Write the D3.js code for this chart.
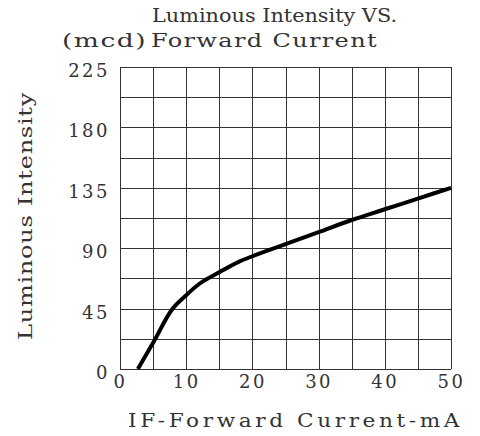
<!DOCTYPE html>
<html><head><meta charset="utf-8">
<script src="https://cdn.jsdelivr.net/npm/d3@7"></script>
<style>body{margin:0;background:#fff}svg{display:block}</style>
</head><body>
<script>
const currentMA = [2.7, 5, 7.8, 10, 12, 15, 18, 20, 25, 30, 35, 40, 45, 50];
const intensity = [0, 19.5, 44, 55, 63.5, 72, 80, 84, 93, 102, 111, 119, 127, 135];
const xTicks = [0, 10, 20, 30, 40, 50];
const yTicks = [0, 45, 90, 135, 180, 225];
const xGrid = d3.range(0, 51, 5);
const yGrid = d3.range(0, 226, 22.5);
const titleLines = ["Luminous Intensity VS.", "Forward Current"];
const unitLabel = "(mcd)";
const xTitle = "IF-Forward Current-mA";
const yTitle = "Luminous Intensity";

const W = 480, H = 436;
const svg = d3.select("body").append("svg").attr("width", W).attr("height", H);
const x = d3.scaleLinear().domain([0, 50]).range([120, 451]);
const y = d3.scaleLinear().domain([0, 225]).range([369, 67]);
const font = "'DejaVu Serif', serif";
const ink = "#333";

const grid = svg.append("g").attr("stroke", "#333").attr("stroke-width", 1).attr("shape-rendering", "crispEdges");
grid.selectAll("line.v").data(xGrid).join("line").attr("class", "v")
  .attr("x1", d => Math.round(x(d)) + 0.5).attr("x2", d => Math.round(x(d)) + 0.5)
  .attr("y1", y(225)).attr("y2", y(0));
grid.selectAll("line.h").data(yGrid).join("line").attr("class", "h")
  .attr("y1", d => Math.round(y(d)) + 0.5).attr("y2", d => Math.round(y(d)) + 0.5)
  .attr("x1", x(0)).attr("x2", x(50));

const pts = currentMA.map((c, i) => [c, intensity[i]]);
svg.append("path").datum(pts)
  .attr("fill", "none").attr("stroke", "#000").attr("stroke-width", 4)
  .attr("stroke-linejoin", "round").attr("stroke-linecap", "butt")
  .attr("d", d3.line().x(d => x(d[0])).y(d => y(d[1])).curve(d3.curveMonotoneX));

function txt(sel, size) {
  return sel.attr("font-family", font).attr("font-size", size).attr("fill", ink);
}

// y tick labels
txt(svg.append("g").selectAll("text").data(yTicks).join("text"), 18)
  .attr("x", 110).attr("y", d => y(d) + 10)
  .attr("text-anchor", "end").attr("letter-spacing", 2.5).text(d => d);

// x tick labels
txt(svg.append("g").selectAll("text").data(xTicks).join("text"), 18)
  .attr("x", d => x(d) + 0.5).attr("y", 388)
  .attr("text-anchor", "middle").attr("letter-spacing", 2.5).text(d => d);

// titles
function fit(t, len, ls) {
  return t.attr("letter-spacing", ls).attr("textLength", len).attr("lengthAdjust", "spacingAndGlyphs");
}
fit(txt(svg.append("text"), 18).attr("x", 152).attr("y", 22), 245, 0).text(titleLines[0]);
fit(txt(svg.append("text"), 18).attr("x", 151).attr("y", 47), 227, 1).text(titleLines[1]);
fit(txt(svg.append("text"), 18).attr("x", 62).attr("y", 47), 85, 1).text(unitLabel);
fit(txt(svg.append("text"), 18).attr("x", 128).attr("y", 427), 335, 3).text(xTitle);
fit(txt(svg.append("text"), 18).attr("transform", "translate(32,340) rotate(-90)"), 248, 0.5).text(yTitle);
</script>
</body></html>
